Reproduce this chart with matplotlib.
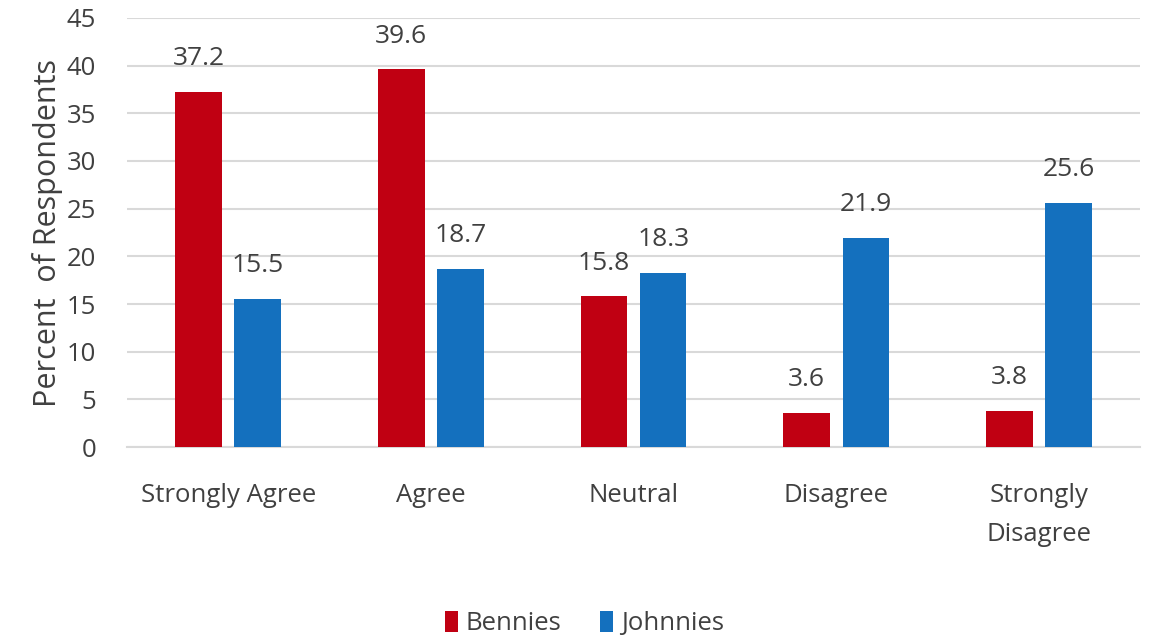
import numpy as np
import matplotlib.pyplot as plt

categories = ["Strongly Agree", "Agree", "Neutral", "Disagree", "Strongly\nDisagree"]
bennies = [37.2, 39.6, 15.8, 3.6, 3.8]
johnnies = [15.5, 18.7, 18.3, 21.9, 25.6]

red = "#C00012"
blue = "#1470BE"
txt = "#404040"

plt.rcParams['font.family'] = ['Open Sans', 'DejaVu Sans']

fig = plt.figure(figsize=(11.53, 6.37), dpi=100)
ax = fig.add_axes([0.110, 0.298, 0.879, 0.674])

x = np.arange(len(categories))
w = 0.23
off = 0.146
b1 = ax.bar(x - off, bennies, w, color=red, label="Bennies", zorder=3)
b2 = ax.bar(x + off, johnnies, w, color=blue, label="Johnnies", zorder=3)

for bars in (b1, b2):
    for rect in bars:
        h = rect.get_height()
        ax.annotate(f"{h:.1f}", (rect.get_x() + rect.get_width() / 2, h),
                    xytext=(0, 15), textcoords="offset points",
                    ha="center", va="bottom", fontsize=19, color=txt)

ax.set_xlim(-0.5, len(categories) - 0.5)
ax.set_ylim(0, 45)
ax.set_yticks(range(0, 46, 5))
ax.set_xticks(x)
ax.set_xticklabels(categories, fontsize=18.5, color=txt, linespacing=1.7)
ax.tick_params(axis="y", labelsize=18.5, labelcolor=txt, length=0, pad=22)
ax.tick_params(axis="x", length=0, pad=26)
ax.grid(axis="y", color="#D9D9D9", linewidth=1.5, zorder=0)
for s in ("top", "right", "left"):
    ax.spines[s].set_visible(False)
ax.spines["bottom"].set_color("#D9D9D9")
ax.spines["bottom"].set_linewidth(1.5)
ax.set_ylabel("Percent  of Respondents", fontsize=22, color=txt, labelpad=3)

fig.legend(handles=[b1, b2], loc="lower center", bbox_to_anchor=(0.507, -0.035),
           ncol=2, frameon=False, fontsize=18.5, handlelength=0.5, handleheight=0.9,
           handletextpad=0.3, columnspacing=1.5, labelcolor=txt)

fig.savefig("out.png", dpi=100)
